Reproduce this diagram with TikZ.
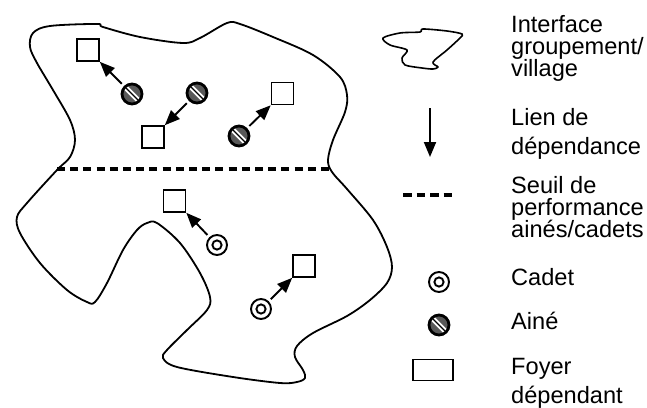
\documentclass[tikz,border=0pt]{standalone}
\usepackage{fontspec}
\setmainfont{Liberation Sans}
\usetikzlibrary{arrows.meta}
\begin{document}
\begin{tikzpicture}[x=1pt,y=-1pt,
  foyer/.style={draw, line width=1.6pt, fill=white, minimum size=22pt, inner sep=0pt},
  cadet/.style={circle, draw, line width=1.9pt, fill=white, minimum size=20pt, inner sep=0pt,
    path picture={\draw[line width=1.9pt] (path picture bounding box.center) circle (4.6pt);}},
  aine/.style={circle, draw, line width=2.8pt, fill=gray!70!black, minimum size=20pt, inner sep=0pt,
    path picture={\draw[white,line width=5pt] (path picture bounding box.north west) -- (path picture bounding box.south east);
                  \draw[black,line width=1.4pt] (path picture bounding box.north west) -- (path picture bounding box.south east);}},
  deparrow/.style={line width=1.9pt, -{Triangle[length=15pt,width=12pt]}, shorten <=3pt},
  seuil/.style={line width=4pt, dash pattern=on 8pt off 5.2pt},
  contour/.style={line width=1.8pt, line join=round},
  lab/.style={anchor=base west, inner sep=0pt, font=\fontsize{23.6}{23}\selectfont}
]
\useasboundingbox (0,0) rectangle (647,407);

% main outline
\draw[contour] plot[smooth cycle, tension=0.55] coordinates {
 (33,33) (50,26) (97,24) (103,27) (140,37) (183,43) (200,38) (227,23) (240,24) (273,37)
 (313,55) (340,77) (347,95) (345,112) (333,140) (328,160) (332,172) (347,189) (373,220)
 (387,247) (392,267) (387,283) (370,300) (347,316) (313,333) (297,346) (295,357) (303,370)
 (305,378) (297,382) (280,383) (233,377) (177,367) (163,358) (167,350) (187,330) (207,310)
 (210,297) (200,273) (180,243) (157,223) (147,223) (137,230) (123,250) (107,283) (95,302)
 (87,302) (67,290) (40,263) (20,233) (17,217) (27,203) (57,170) (70,157) (75,140) (70,120)
 (53,90) (37,63) (30,47)};

% threshold
\coordinate (t1) at (57,169);
\coordinate (t2) at (333,169);
\draw[seuil] (t1) -- (t2);

% households
\node[foyer] (S1) at (88,50) {};
\node[foyer] (S2) at (153,137) {};
\node[foyer] (S3) at (282.5,93.5) {};
\node[foyer] (S4) at (174.5,201) {};
\node[foyer] (S5) at (304,266) {};

% aines and cadets
\node[aine] (A1) at (132,94) {};
\node[aine] (A2) at (197,93) {};
\node[aine] (A3) at (239,136) {};
\node[cadet] (C1) at (217,245) {};
\node[cadet] (C2) at (261,309) {};

\draw[deparrow] (A1) -- (S1.south east);
\draw[deparrow] (A2) -- (S2.north east);
\draw[deparrow] (A3) -- (S3.south west);
\draw[deparrow] (C1) -- (S4.south east);
\draw[deparrow] (C2) -- (S5.south west);

% legend
\draw[line width=1.6pt, line join=round] plot[smooth cycle, tension=0.5] coordinates {
 (383,38) (400,33) (420,32) (423,29) (447,31) (462,34) (460,38) (447,50) (433,62)
 (438,67) (433,69) (422,68) (405,65) (402,58) (407,50) (390,45)};
\node[lab] (l1a) at (511,32) {Interface};
\node[lab] (l1b) at (511,54) {groupement/};
\node[lab] (l1c) at (511,76) {village};

\coordinate (la1) at (430,108);
\coordinate (la2) at (430,157);
\draw[line width=1.9pt, -{Triangle[length=15pt,width=12pt]}] (la1) -- (la2);
\node[lab] (l2a) at (511,125) {Lien de};
\node[lab] (l2b) at (511,154) {dépendance};

\coordinate (ld1) at (403,195);
\coordinate (ld2) at (455,195);
\draw[line width=4pt, dash pattern=on 8.5pt off 5pt] (ld1) -- (ld2);
\node[lab] (l3a) at (511,193) {Seuil de};
\node[lab] (l3b) at (511,215) {performance};
\node[lab] (l3c) at (511,237) {ainés/cadets};

\node[cadet] (lc) at (439,282) {};
\node[lab] (l4) at (511,285) {Cadet};

\node[aine] (lae) at (439,325) {};
\node[lab] (l5) at (511,329) {Ainé};

\node[foyer, minimum width=40pt, minimum height=21pt] (lf) at (433,370) {};
\node[lab] (l6a) at (511,374) {Foyer};
\node[lab] (l6b) at (511,403) {dépendant};
\end{tikzpicture}
\end{document}
